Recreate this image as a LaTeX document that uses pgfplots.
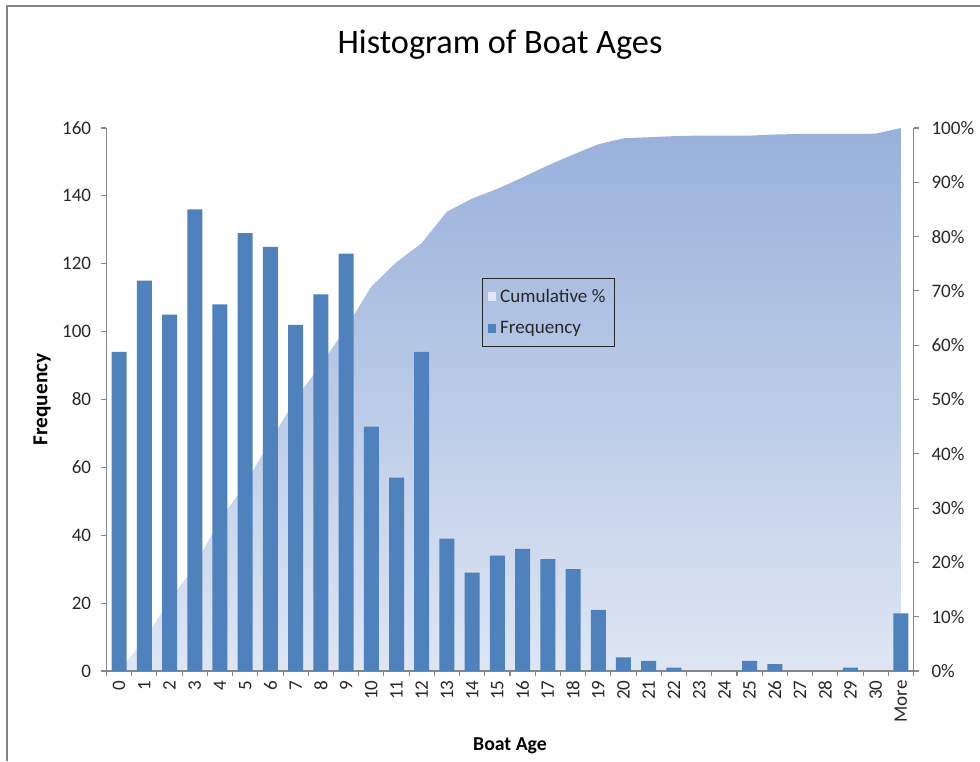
\documentclass[border=0pt]{standalone}
\usepackage{pgfplots}
\pgfplotsset{compat=1.18}
\usepackage{fontspec}
\setmainfont{Carlito}

\definecolor{barblue}{RGB}{79,129,189}
\definecolor{areatop}{RGB}{152,176,219}
\definecolor{areabottom}{RGB}{222,230,243}
\definecolor{axisgray}{RGB}{134,134,134}
\definecolor{labelgray}{RGB}{40,40,40}

\pgfplotsset{
  boatframe/.style={
    scale only axis,
    width=605.25pt, height=407.25pt,
    at={(79.875pt,67.5pt)}, anchor=south west,
    xmin=-0.5, xmax=31.5,
    ymin=0,
    tick align=outside,
    major tick length=4pt,
    tick style={axisgray, line width=0.8pt},
    axis line style={axisgray, line width=0.8pt},
    every tick label/.append style={font=\fontsize{14.3}{16}\selectfont, text=labelgray},
    /pgf/number format/assume math mode=true,
  },
  square legend/.style={
    legend image code/.code={
      \fill[##1, draw=none] (4pt,-3.2pt) rectangle (10.4pt,3.2pt);
    }
  },
}

\begin{document}
\begin{tikzpicture}
\useasboundingbox (0,0) rectangle (735pt,570.75pt);
% chart area border
\draw[axisgray, line width=1.1pt] (5.25pt,0) -- (5.25pt,566.25pt) -- (735pt,566.25pt);

% cumulative percentage (secondary axis, drawn behind the bars)
\begin{axis}[boatframe,
  ymax=100,
  axis x line=none,
  axis y line*=right,
  ytick={0,10,...,100},
  yticklabel={\pgfmathprintnumber{\tick}\%},
  yticklabel style={xshift=6pt},
]
\addplot[draw=none, top color=areatop, bottom color=areabottom] coordinates {
  (0,0) (1,5.8) (2,12.9) (3,19.4) (4,27.8) (5,34.4) (6,42.4) (7,50.1)
  (8,56.4) (9,63.2) (10,70.8) (11,75.3) (12,78.8) (13,84.6) (14,87.0)
  (15,88.8) (16,90.9) (17,93.1) (18,95.1) (19,97.0) (20,98.1) (21,98.3)
  (22,98.5) (23,98.6) (24,98.6) (25,98.6) (26,98.8) (27,98.9) (28,98.9)
  (29,98.9) (30,98.95) (31,100)
} \closedcycle;
\end{axis}

% frequency bars (primary axis)
\begin{axis}[boatframe,
  ymax=160,
  axis x line*=bottom,
  axis y line*=left,
  ytick={0,20,...,160},
  yticklabel style={xshift=-4pt},
  xtick={-0.5,0.5,...,31.5},
  xticklabels={},
  extra x ticks={0,1,...,31},
  extra x tick labels={0,1,2,3,4,5,6,7,8,9,10,11,12,13,14,15,16,17,18,19,20,21,22,23,24,25,26,27,28,29,30,More},
  extra x tick style={major tick length=0pt, tick style={draw=none},
    xticklabel style={rotate=90, anchor=east, xshift=-3.5pt}},
  title={Histogram of Boat Ages},
  title style={font=\fontsize{25.7}{28}\selectfont, anchor=center,
    at={(axis description cs:0.4876,1.139)}},
  xlabel={Boat Age},
  xlabel style={font=\fontsize{14.8}{17}\selectfont\bfseries, anchor=center,
    at={(axis description cs:0.5,-0.138)}},
  ylabel={Frequency},
  ylabel style={font=\fontsize{16}{18}\selectfont\bfseries, anchor=center,
    at={(axis description cs:-0.0799,0.5)}},
  legend style={at={(axis description cs:0.465,0.724)}, anchor=north west,
    draw=black!85, line width=0.8pt, fill=none,
    font=\fontsize{14.3}{16}\selectfont, text=labelgray,
    row sep=9pt, inner xsep=4pt, inner ysep=6pt,
    nodes={inner xsep=3pt}},
  legend cell align=left,
]
\addlegendimage{square legend, fill=white!72!areatop}
\addlegendentry{Cumulative \%}
\addplot[ybar, bar width=11.25pt, fill=barblue, draw=none, square legend] coordinates {
  (0,94) (1,115) (2,105) (3,136) (4,108) (5,129) (6,125) (7,102)
  (8,111) (9,123) (10,72) (11,57) (12,94) (13,39) (14,29) (15,34)
  (16,36) (17,33) (18,30) (19,18) (20,4) (21,3) (22,1) (23,0)
  (24,0) (25,3) (26,2) (27,0) (28,0) (29,1) (30,0) (31,17)
};
\addlegendentry{Frequency}
\end{axis}
\end{tikzpicture}
\end{document}
